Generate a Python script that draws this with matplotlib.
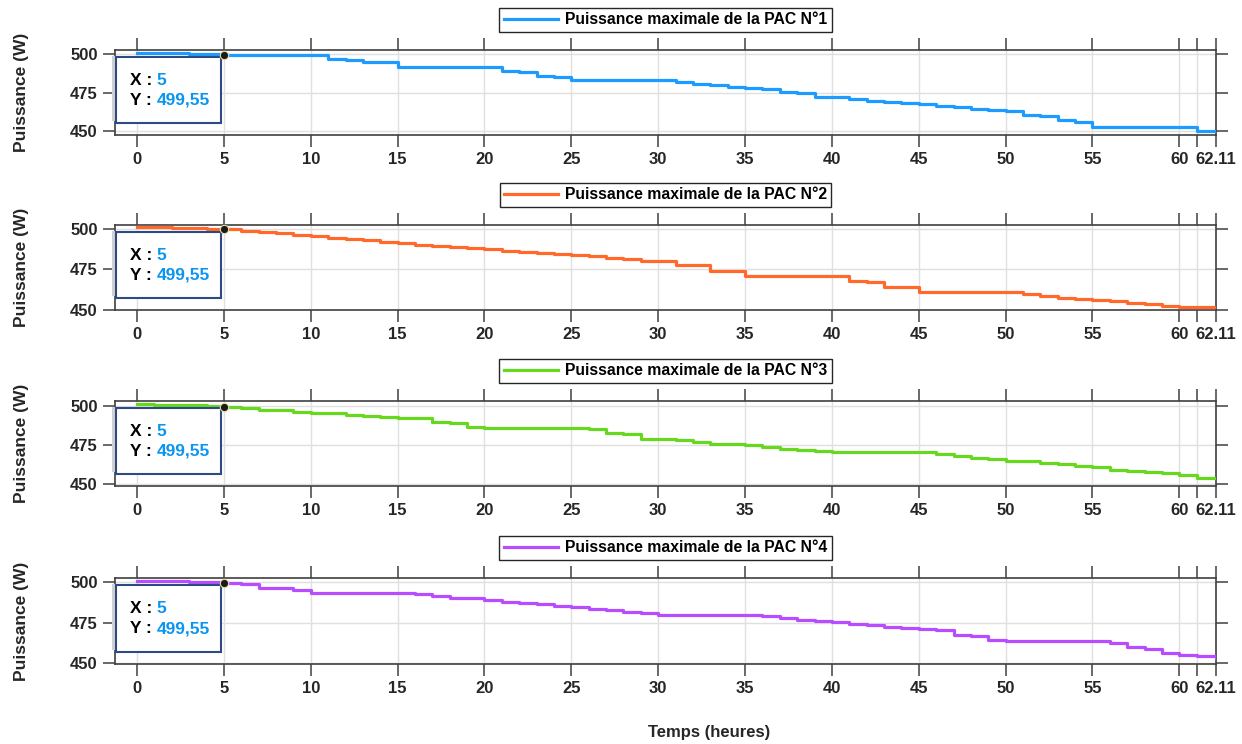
import matplotlib
matplotlib.use("Agg")
import matplotlib.pyplot as plt
from matplotlib.patches import Rectangle

plt.rcParams["font.family"] = ["Liberation Sans", "DejaVu Sans"]
plt.rcParams["font.weight"] = "bold"

# time in hours: one value per hour, plus the end of the run
time_h = list(range(62)) + [62.11]

pac1 = [
    501.0, 500.9, 500.6, 500.4, 500.1, 499.55, 499.55, 499.55, 499.55, 499.55,
    499.55, 497.1, 496.3, 494.8, 494.8, 491.5, 491.5, 491.5, 491.5, 491.5,
    491.5, 489.3, 488.2, 486.1, 485.4, 483.0, 483.0, 483.0, 483.0, 483.0,
    483.0, 481.9, 480.9, 479.8, 478.7, 478.2, 477.4, 475.4, 474.6, 472.4,
    472.4, 471.1, 469.8, 469.1, 468.0, 467.4, 466.3, 465.4, 464.6, 463.5,
    463.0, 460.4, 459.6, 457.0, 456.1, 452.8, 452.8, 452.8, 452.8, 452.8,
    452.8, 450.0, 450.0,
]
pac2 = [
    501.0, 500.9, 500.6, 500.3, 500.0, 499.55, 498.9, 497.9, 497.1, 496.3,
    495.5, 494.4, 493.6, 492.8, 491.9, 491.1, 490.3, 489.5, 488.7, 488.0,
    487.4, 486.6, 485.8, 485.1, 484.6, 484.0, 483.2, 482.3, 481.5, 480.4,
    480.4, 477.4, 477.4, 474.1, 474.1, 471.0, 471.0, 471.0, 471.0, 471.0,
    471.0, 468.1, 467.5, 464.4, 464.4, 461.3, 461.3, 461.3, 461.3, 461.3,
    461.3, 459.9, 458.8, 457.6, 457.0, 456.0, 455.5, 454.3, 453.5, 452.5,
    451.6, 451.6, 451.6,
]
pac3 = [
    501.0, 500.9, 500.6, 500.4, 500.1, 499.55, 498.7, 497.5, 497.5, 496.4,
    495.8, 495.8, 494.3, 493.9, 493.0, 492.4, 492.4, 489.9, 489.2, 486.7,
    486.3, 486.3, 486.3, 486.3, 486.3, 486.3, 485.6, 482.5, 481.9, 479.1,
    479.1, 478.1, 477.0, 475.9, 475.9, 474.9, 473.8, 472.8, 471.9, 471.1,
    470.5, 470.5, 470.5, 470.5, 470.5, 470.5, 469.4, 468.4, 467.1, 466.2,
    465.2, 464.8, 463.5, 462.9, 461.6, 460.8, 459.5, 458.6, 457.8, 457.0,
    455.7, 454.2, 454.2,
]
pac4 = [
    500.8, 500.7, 500.5, 500.2, 499.9, 499.55, 498.8, 496.3, 496.3, 494.8,
    493.2, 493.2, 493.2, 493.2, 493.2, 493.2, 492.4, 491.1, 490.1, 490.1,
    488.8, 487.8, 487.2, 486.4, 485.3, 484.8, 483.4, 482.7, 481.7, 481.1,
    479.8, 479.8, 479.8, 479.8, 479.8, 479.8, 478.8, 478.0, 476.7, 476.1,
    475.1, 474.3, 473.5, 472.6, 471.8, 471.0, 470.4, 467.5, 466.7, 464.2,
    463.6, 463.6, 463.6, 463.6, 463.6, 463.6, 462.8, 459.9, 459.0, 456.2,
    455.3, 454.5, 453.1,
]

series = [pac1, pac2, pac3, pac4]
labels = [
    "Puissance maximale de la PAC N°1",
    "Puissance maximale de la PAC N°2",
    "Puissance maximale de la PAC N°3",
    "Puissance maximale de la PAC N°4",
]
colors = ["#1e9bff", "#ff6a2c", "#66d91f", "#b84dff"]

# data tip shown on every panel
tip_x = 5
tip_y = 499.55
tip_x_text = "5"
tip_y_text = "499,55"

x_ticks = [0, 5, 10, 15, 20, 25, 30, 35, 40, 45, 50, 55, 60, 61, 62.11]
x_tick_labels = ["0", "5", "10", "15", "20", "25", "30", "35", "40", "45",
                 "50", "55", "60", "", "62.11"]
y_ticks = [450, 475, 500]

# panel layout in pixels (top, bottom) and y limits
panels_px = [(50, 135), (225, 310), (401, 486), (578, 664)]
ylims = [(447.5, 502.8), (450.0, 502.3), (449.0, 503.2), (449.6, 502.4)]

W, H = 1242, 744
fig = plt.figure(figsize=(W / 100, H / 100), dpi=100)

left_px, right_px = 115, 1216
dark = "#262626"
frame = "#404040"

for i, (vals, lab, col) in enumerate(zip(series, labels, colors)):
    top, bot = panels_px[i]
    ax = fig.add_axes([left_px / W, 1 - bot / H, (right_px - left_px) / W, (bot - top) / H])

    ax.step(time_h, vals, where="post", color=col, linewidth=2.3, label=lab, zorder=3)

    ax.set_xlim(-1.27, 62.11)
    ax.set_ylim(*ylims[i])
    ax.set_xticks(x_ticks)
    ax.set_xticklabels(x_tick_labels)
    ax.set_yticks(y_ticks)
    ax.grid(True, color="#e0e0e0", linewidth=1.0, zorder=0)
    ax.set_axisbelow(True)

    ax.tick_params(axis="both", direction="out", length=8.5, width=1.1,
                   color=frame, labelcolor=dark, labelsize=12, pad=4)
    ax.tick_params(axis="x", top=True, labeltop=False)
    ax.tick_params(axis="y", right=True, labelright=False)
    for t in ax.get_xticklabels() + ax.get_yticklabels():
        t.set_fontweight("bold")
    for sp in ax.spines.values():
        sp.set_color(frame)
        sp.set_linewidth(1.2)

    ax.set_ylabel("Puissance (W)", fontsize=12.5, fontweight="bold", color=dark)
    ax.yaxis.set_label_coords(-0.078, 0.5)

    leg = ax.legend(loc="lower center", bbox_to_anchor=(0.5, 1 + 18 / (bot - top)),
                    borderaxespad=0, handlelength=3.45,
                    handletextpad=0.4, borderpad=0.3, fancybox=False,
                    framealpha=1, edgecolor=dark, prop={"weight": "bold", "size": 11.3})
    leg.get_frame().set_linewidth(1.0)

    # data tip box
    box_h = 0.77
    box_y = 0.145
    shadow = Rectangle((-0.003, box_y + 0.02), 0.096, box_h, transform=ax.transAxes,
                       facecolor="#d0d0d0", edgecolor="none", zorder=4, clip_on=False)
    ax.add_patch(shadow)
    box = Rectangle((0.001, box_y), 0.095, box_h, transform=ax.transAxes,
                    facecolor="white", edgecolor="#2e4a86", linewidth=1.5, zorder=5,
                    clip_on=False)
    ax.add_patch(box)
    ax.text(0.0136, 0.645, "X :", transform=ax.transAxes, fontsize=12.5,
            fontweight="bold", color="black", va="center", zorder=6)
    ax.text(0.038, 0.645, tip_x_text, transform=ax.transAxes, fontsize=12.5,
            fontweight="bold", color="#0a96f0", va="center", zorder=6)
    ax.text(0.0136, 0.41, "Y :", transform=ax.transAxes, fontsize=12.5,
            fontweight="bold", color="black", va="center", zorder=6)
    ax.text(0.038, 0.41, tip_y_text, transform=ax.transAxes, fontsize=12.5,
            fontweight="bold", color="#0a96f0", va="center", zorder=6)
    ax.plot([tip_x], [tip_y], marker="o", markersize=6, markerfacecolor="#1a1a1a",
            markeredgecolor="#e8e0a0", markeredgewidth=0.8, zorder=7, clip_on=False)

fig.text(709.5 / W, 1 - 733 / H, "Temps (heures)", ha="center", va="center",
         fontsize=12, fontweight="bold", color=dark)

fig.savefig("out.png", dpi=100)
